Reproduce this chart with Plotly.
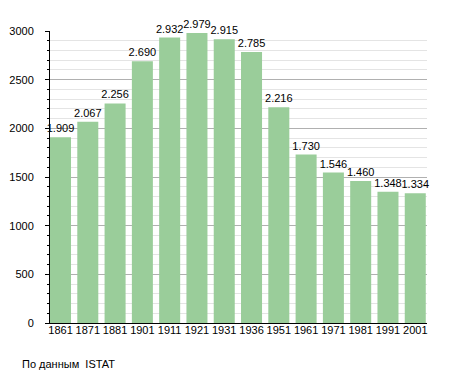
import plotly.graph_objects as go

years = ["1861", "1871", "1881", "1901", "1911", "1921", "1931", "1936",
         "1951", "1961", "1971", "1981", "1991", "2001"]
population = [1909, 2067, 2256, 2690, 2932, 2979, 2915, 2785,
              2216, 1730, 1546, 1460, 1348, 1334]
y_ticks = [0, 500, 1000, 1500, 2000, 2500, 3000]
source_note = "По данным  ISTAT"

labels = [f"{v:,}".replace(",", ".") for v in population]
xpos = list(range(len(years)))

fig = go.Figure()
fig.add_trace(go.Bar(
    x=xpos, y=population, width=0.77,
    marker=dict(color="#9acd9a", line=dict(width=0)),
    text=labels, textposition="outside", cliponaxis=False,
    textfont=dict(size=11, color="#000000", family="Liberation Sans, Arial, sans-serif"),
    constraintext="none",
))

# page body has an 8px margin, so the figure is sized/padded to compensate
fig.update_layout(
    width=447, height=365,
    margin=dict(l=42, r=28, t=23, b=50, autoexpand=False),
    paper_bgcolor="white", plot_bgcolor="white",
    showlegend=False,
    font=dict(family="Liberation Sans, Arial, sans-serif", size=11, color="#000000"),
    uniformtext=dict(minsize=11, mode="show"),
    annotations=[dict(text=source_note, xref="paper", yref="paper",
                      x=-30/377, y=-33/292, xanchor="left", yanchor="top",
                      showarrow=False, font=dict(size=11, color="#000000"))],
)
fig.update_xaxes(
    range=[-0.385, 13.43], tickvals=xpos, ticktext=years,
    showgrid=False, showline=True, linecolor="#000000", linewidth=1,
    ticks="", zeroline=False, tickfont=dict(size=11), automargin=False,
    ticklabelstandoff=-3,
)
fig.update_yaxes(
    range=[0, 3000], tickvals=y_ticks,
    showgrid=True, gridcolor="#b0b0b0", gridwidth=1,
    showline=True, linecolor="#000000", linewidth=1,
    ticks="outside", ticklen=4, tickcolor="#000000",
    zeroline=False, tickfont=dict(size=11), automargin=False,
    ticklabelstandoff=9,
    minor=dict(dtick=100, showgrid=True, gridcolor="#e4e4e4", gridwidth=1,
               ticks="outside", ticklen=2, tickcolor="#000000"),
)

fig.write_html("out.html")
